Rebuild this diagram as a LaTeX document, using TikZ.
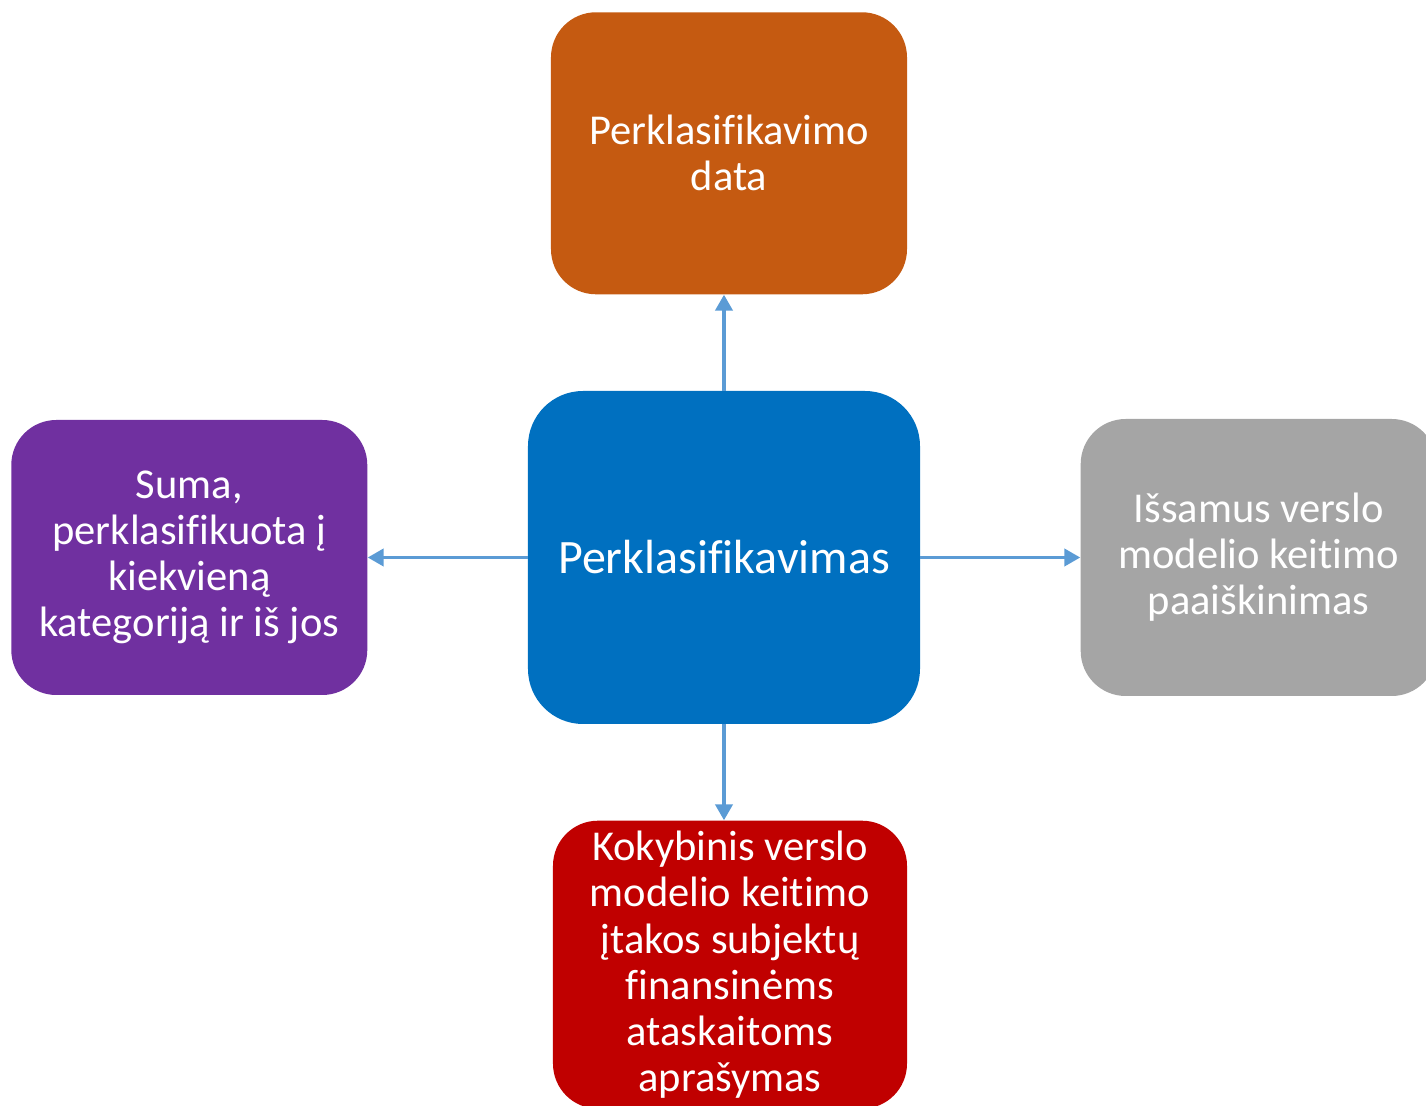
\documentclass[tikz,border=0pt]{standalone}
\usepackage{fontspec}
\setmainfont[Ligatures=NoCommon]{Carlito}
\usepackage{xcolor}
\usetikzlibrary{arrows.meta,positioning}
\definecolor{rust}{HTML}{C55A11}
\definecolor{mainblue}{HTML}{0070C0}
\definecolor{plum}{HTML}{7030A0}
\definecolor{stone}{HTML}{A5A5A5}
\definecolor{crimson}{HTML}{C00000}
\definecolor{linkblue}{HTML}{5B9BD5}

\begin{document}
\begin{tikzpicture}[node distance=1.92cm and 3.2cm]
    \tikzset{
      box/.style={rounded corners=0.9cm,draw=none,inner sep=0pt,align=center,text=white,font=\fontsize{24.2}{26.2}\selectfont},
      hub/.style={box,fill=mainblue,minimum width=7.84cm,minimum height=6.66cm,rounded corners=1.1cm,font=\fontsize{27.3}{30}\selectfont},
      arrow/.style={-{Triangle[length=0.32cm,width=0.34cm]},draw=linkblue,line width=2.2pt}
    }
    \clip (-14.48,-10.97) rectangle (14.04,11.15);
    \node[hub] (reclass) at (0,0) {Perklasifikavimas};
    \node[box,fill=rust,minimum width=7.12cm,minimum height=5.64cm,above=of reclass,xshift=0.1cm] (date) {Perklasifikavimo\\data};
    \node[box,fill=plum,minimum width=7.12cm,minimum height=5.5cm,left=of reclass] (amount) {Suma,\\perklasifikuota į\\kiekvieną\\kategoriją ir iš jos};
    \node[box,fill=stone,minimum width=7.12cm,minimum height=5.54cm,right=of reclass] (detail) {Išsamus verslo\\modelio keitimo\\paaiškinimas};
    \node[box,fill=crimson,minimum width=7.08cm,minimum height=5.76cm,below=of reclass,xshift=0.12cm] (impact) {Kokybinis verslo\\modelio keitimo\\įtakos subjektų\\finansinėms\\ataskaitoms\\aprašymas};
    \draw[arrow] (reclass.north) -- (reclass.north |- date.south);
    \draw[arrow] (reclass.west) -- (amount.east);
    \draw[arrow] (reclass.east) -- (detail.west);
    \draw[arrow] (reclass.south) -- (reclass.south |- impact.north);
  \end{tikzpicture}
\end{document}
